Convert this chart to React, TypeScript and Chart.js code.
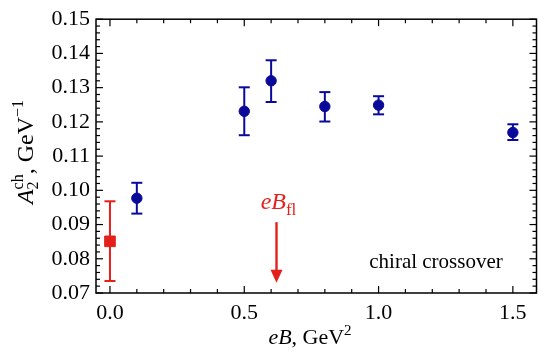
import React, { useEffect, useRef } from "react";
import { Chart, registerables } from "chart.js";

Chart.register(...registerables);

const blueX = [0.1, 0.5, 0.6, 0.8, 1.0, 1.5];
const blueY = [0.0977, 0.1231, 0.132, 0.1245, 0.1249, 0.1169];
const blueLow = [0.0932, 0.1161, 0.1258, 0.1201, 0.1222, 0.1147];
const blueHigh = [0.1022, 0.1301, 0.138, 0.1287, 0.1275, 0.1193];

const redX = [0.0];
const redY = [0.0851];
const redLow = [0.0735];
const redHigh = [0.0968];

const arrowX = 0.62;
const arrowFrom = 0.0907;
const arrowTo = 0.073;

const xTicks = [0.0, 0.5, 1.0, 1.5];
const yTicks = [0.07, 0.08, 0.09, 0.1, 0.11, 0.12, 0.13, 0.14, 0.15];
const xMinorStep = 0.1;
const yMinorStep = 0.002;

const BLUE = "#0a0a9a";
const RED = "#e3201b";
const SERIF = "'Liberation Serif', 'DejaVu Serif', serif";

type Seg = { t: string; italic?: boolean; sup?: boolean; sub?: boolean };

function drawRich(ctx: CanvasRenderingContext2D, segs: Seg[], x: number, y: number, base: number, color: string) {
  const fontFor = (s: Seg) => {
    const sz = s.sup || s.sub ? Math.round(base * 0.7) : base;
    return `${s.italic ? "italic " : ""}${sz}px ${SERIF}`;
  };
  let total = 0;
  const widths: number[] = [];
  for (const s of segs) {
    ctx.font = fontFor(s);
    const w = ctx.measureText(s.t).width;
    widths.push(w);
    total += w;
  }
  let cx = x - total / 2;
  ctx.fillStyle = color;
  ctx.textBaseline = "alphabetic";
  ctx.textAlign = "left";
  segs.forEach((s, i) => {
    ctx.font = fontFor(s);
    let dy = 0;
    if (s.sup) dy = -base * 0.4;
    if (s.sub) dy = base * 0.25;
    ctx.fillText(s.t, cx, y + dy);
    cx += widths[i];
  });
}

const annotPlugin = {
  id: "annot",
  afterDatasetsDraw(chart: any) {
    const { ctx, chartArea } = chart;
    const xs = chart.scales.x;
    const ys = chart.scales.y;
    ctx.save();
    ctx.strokeStyle = "#000";
    ctx.lineWidth = 1.5;
    ctx.strokeRect(chartArea.left, chartArea.top, chartArea.right - chartArea.left, chartArea.bottom - chartArea.top);
    ctx.lineWidth = 1.2;
    const line = (x1: number, y1: number, x2: number, y2: number) => {
      ctx.beginPath();
      ctx.moveTo(x1, y1);
      ctx.lineTo(x2, y2);
      ctx.stroke();
    };
    const xStart = Math.ceil(xs.min / xMinorStep - 1e-6);
    const xEnd = Math.floor(xs.max / xMinorStep + 1e-6);
    for (let i = xStart; i <= xEnd; i++) {
      const v = i * xMinorStep;
      const major = xTicks.some((t) => Math.abs(t - v) < 1e-6);
      const px = xs.getPixelForValue(v);
      const L = major ? 7 : 4;
      line(px, chartArea.bottom, px, chartArea.bottom - L);
      line(px, chartArea.top, px, chartArea.top + L);
    }
    const yStart = Math.ceil(ys.min / yMinorStep - 1e-6);
    const yEnd = Math.floor(ys.max / yMinorStep + 1e-6);
    for (let i = yStart; i <= yEnd; i++) {
      const v = i * yMinorStep;
      const major = yTicks.some((t) => Math.abs(t - v) < 1e-6);
      const py = ys.getPixelForValue(v);
      const L = major ? 7 : 4;
      line(chartArea.left, py, chartArea.left + L, py);
      line(chartArea.right, py, chartArea.right - L, py);
    }
    const drawErr = (xv: number[], lo: number[], hi: number[], color: string) => {
      ctx.strokeStyle = color;
      ctx.lineWidth = 2;
      xv.forEach((x, i) => {
        const px = xs.getPixelForValue(x);
        const p1 = ys.getPixelForValue(lo[i]);
        const p2 = ys.getPixelForValue(hi[i]);
        line(px, p1, px, p2);
        line(px - 5.5, p1, px + 5.5, p1);
        line(px - 5.5, p2, px + 5.5, p2);
      });
    };
    drawErr(blueX, blueLow, blueHigh, BLUE);
    drawErr(redX, redLow, redHigh, RED);
    // arrow
    const ax = xs.getPixelForValue(arrowX);
    const ay1 = ys.getPixelForValue(arrowFrom);
    const ay2 = ys.getPixelForValue(arrowTo);
    ctx.strokeStyle = RED;
    ctx.fillStyle = RED;
    ctx.lineWidth = 2.4;
    line(ax, ay1, ax, ay2 - 10);
    ctx.beginPath();
    ctx.moveTo(ax, ay2);
    ctx.lineTo(ax - 6, ay2 - 13);
    ctx.lineTo(ax + 6, ay2 - 13);
    ctx.closePath();
    ctx.fill();
    drawRich(ctx, [{ t: "eB", italic: true }, { t: "fl", sub: true }], ax + 2, ay1 - 13, 24, RED);
    // chiral crossover
    ctx.font = `21px ${SERIF}`;
    ctx.fillStyle = "#000";
    ctx.textAlign = "center";
    ctx.textBaseline = "alphabetic";
    ctx.fillText("chiral crossover", 436, 268);
    // x title
    drawRich(ctx, [{ t: "eB", italic: true }, { t: ", GeV" }, { t: "2", sup: true }], 310, 344, 22, "#000");
    ctx.restore();

    // y title (rotated), A with sub 2 and sup ch stacked
    ctx.save();
    ctx.translate(33, 152);
    ctx.rotate(-Math.PI / 2);
    const base = 24;
    const small = 16;
    const fA = `italic ${base}px ${SERIF}`;
    const fS = `${small}px ${SERIF}`;
    const fN = `${base}px ${SERIF}`;
    const w = (t: string, f: string) => {
      ctx.font = f;
      return ctx.measureText(t).width;
    };
    const wA = w("A", fA);
    const wch = w("ch", fS);
    const wRest = w(", GeV", fN);
    const wm1 = w("\u22121", fS);
    const total = wA + wch + wRest + wm1;
    let cx = -total / 2;
    ctx.fillStyle = "#000";
    ctx.textAlign = "left";
    ctx.textBaseline = "alphabetic";
    ctx.font = fA;
    ctx.fillText("A", cx, 0);
    cx += wA;
    ctx.font = fS;
    ctx.fillText("ch", cx, -base * 0.42);
    ctx.fillText("2", cx, base * 0.22);
    cx += wch;
    ctx.font = fN;
    ctx.fillText(", GeV", cx, 0);
    cx += wRest;
    ctx.font = fS;
    ctx.fillText("\u22121", cx, -base * 0.42);
    ctx.restore();
  },
};

export default function App() {
  const ref = useRef<HTMLCanvasElement>(null);
  useEffect(() => {
    if (!ref.current) return;
    const chart = new Chart(ref.current, {
      type: "scatter",
      data: {
        datasets: [
          {
            data: blueX.map((x, i) => ({ x, y: blueY[i] })),
            backgroundColor: BLUE,
            borderColor: BLUE,
            pointRadius: 5.2,
            pointStyle: "circle",
          },
          {
            data: redX.map((x, i) => ({ x, y: redY[i] })),
            backgroundColor: RED,
            borderColor: RED,
            pointRadius: 7.5,
            pointStyle: "rect",
          },
        ],
      },
      options: {
        animation: false,
        responsive: false,
        events: [],
        layout: { padding: { left: 0, right: 3, top: 15, bottom: 0 } },
        plugins: { legend: { display: false }, tooltip: { enabled: false } },
        scales: {
          x: {
            type: "linear",
            min: -0.052,
            max: 1.588,
            grid: { display: false, drawTicks: false },
            border: { display: false },
            afterBuildTicks: (s: any) => {
              s.ticks = xTicks.map((v) => ({ value: v }));
            },
            afterFit: (s: any) => {
              s.height = 65;
            },
            ticks: {
              padding: 7,
              color: "#000",
              font: { family: SERIF, size: 22 },
              maxRotation: 0,
              callback: (v: any) => Number(v).toFixed(1),
            },
          },
          y: {
            type: "linear",
            min: 0.07,
            max: 0.15,
            grid: { display: false, drawTicks: false },
            border: { display: false },
            afterBuildTicks: (s: any) => {
              s.ticks = yTicks.map((v) => ({ value: v }));
            },
            afterFit: (s: any) => {
              s.width = 96;
            },
            ticks: {
              padding: 6,
              color: "#000",
              font: { family: SERIF, size: 22 },
              callback: (v: any) => Number(v).toFixed(2),
            },
          },
        },
      },
      plugins: [annotPlugin],
    });
    return () => chart.destroy();
  }, []);
  return (
    <div style={{ position: "fixed", left: 0, top: 0, width: 545, height: 358, background: "#fff" }}>
      <canvas ref={ref} width={545} height={358} style={{ width: 545, height: 358, display: "block" }} />
    </div>
  );
}
